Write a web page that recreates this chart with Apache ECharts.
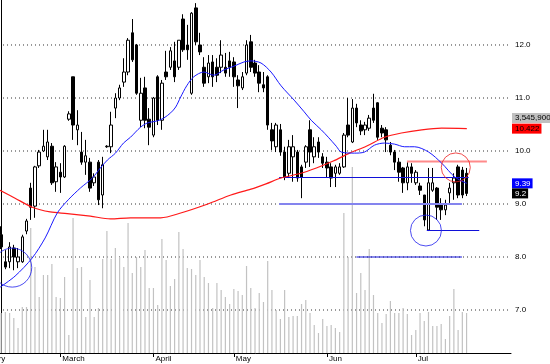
<!DOCTYPE html>
<html><head><meta charset="utf-8">
<script src="https://cdn.jsdelivr.net/npm/echarts@6/dist/echarts.min.js"></script>
<style>html,body{margin:0;padding:0;background:#fff}#c{width:550px;height:364px}</style>
</head><body><div id="c"></div>
<script>
// ---- data ----
const opens  = [8.42,7.91,7.91,8.17,7.91,7.91,8.49,9.30,8.96,9.72,10.00,9.89,10.09,9.42,9.60,9.51,10.60,11.40,10.40,9.98,9.79,9.79,9.40,9.79,9.17,10.08,10.08,10.81,11.00,11.30,11.49,12.23,12.00,10.58,11.19,10.60,10.30,11.40,10.58,11.49,11.58,11.70,11.58,12.49,12.00,11.09,12.70,12.00,11.58,11.40,11.68,11.58,11.58,11.58,11.70,11.68,11.34,11.19,11.47,12.06,11.66,11.49,11.25,11.40,10.40,10.08,10.40,9.98,9.58,9.89,9.98,9.70,9.79,10.40,9.89,10.17,9.89,9.79,9.70,9.58,9.58,9.70,10.49,10.17,10.81,10.49,10.40,10.43,10.81,10.91,10.43,10.40,10.11,9.98,9.79,9.68,9.40,9.70,9.40,9.34,9.17,8.51,9.26,9.30,8.98,8.89,9.21,9.40,9.70,9.64,9.58];
const closes = [8.19,7.81,8.19,8.00,8.00,8.38,8.68,8.94,9.70,9.98,10.09,10.17,9.40,9.70,9.51,10.09,10.70,10.49,10.49,9.79,9.91,9.30,9.51,9.08,9.74,10.09,10.49,11.00,11.19,11.49,12.09,11.72,11.09,11.09,10.58,10.45,11.00,10.58,11.28,11.40,11.89,11.40,12.09,11.91,11.91,12.60,12.06,11.87,11.28,11.66,11.40,11.43,11.81,11.47,11.58,11.40,11.23,11.40,12.00,11.58,11.47,11.28,11.19,10.49,10.19,10.49,9.98,9.51,10.08,10.08,9.49,9.51,10.08,9.98,10.08,9.98,9.77,9.68,9.49,9.70,9.70,10.30,10.30,10.81,10.53,10.38,10.49,10.62,10.58,10.26,10.34,10.21,9.98,9.79,9.60,9.40,9.70,9.58,9.60,9.26,8.70,9.40,9.40,8.94,8.89,8.98,9.30,9.49,9.17,9.17,9.2];
const highs  = [8.58,8.13,8.28,8.23,8.17,8.42,8.72,9.40,9.72,10.02,10.40,10.40,10.15,9.79,9.77,10.11,10.75,11.40,10.77,10.36,10.21,9.87,9.58,9.83,9.89,10.11,10.74,11.09,11.25,11.75,12.13,12.49,12.02,11.38,11.40,10.81,11.02,11.43,11.34,11.89,11.96,12.06,12.09,12.58,12.38,12.62,12.79,12.23,11.77,11.81,11.81,11.75,12.09,11.85,11.87,11.77,11.43,11.49,12.09,12.19,11.72,11.62,11.49,11.43,10.53,10.53,10.51,10.08,10.21,10.30,10.02,9.74,10.11,10.58,10.26,10.26,9.96,9.89,9.77,9.74,9.77,10.34,11.00,10.98,10.89,10.58,10.55,10.68,11.08,10.92,10.49,10.45,10.17,10.02,9.87,9.70,9.79,9.77,9.64,9.40,9.17,9.68,9.68,9.32,9.11,9.08,9.40,9.58,9.74,9.70,9.68];
const lows   = [8.15,7.77,7.79,7.75,7.79,7.89,8.43,8.70,8.74,9.68,9.98,9.83,9.36,9.23,9.21,9.49,10.57,10.21,10.11,9.74,9.55,9.23,9.34,8.98,8.92,10.06,9.96,10.62,10.96,11.21,11.43,11.68,11.06,10.45,10.43,10.11,10.26,10.49,10.40,11.34,11.53,11.30,11.53,11.87,11.72,11.06,12.00,11.81,11.21,11.28,11.21,11.30,11.47,11.40,11.40,11.21,10.81,11.15,11.43,11.49,11.40,11.11,11.11,10.40,10.02,9.98,9.91,9.45,9.49,9.42,9.42,9.11,9.68,9.70,9.77,9.87,9.68,9.51,9.32,9.32,9.55,9.68,10.26,10.15,10.45,10.30,10.30,10.38,10.53,10.21,10.26,9.98,9.92,9.64,9.42,9.21,9.26,9.40,9.36,9.17,8.58,8.49,9.23,8.70,8.70,8.79,9.02,9.08,9.11,9.11,9.15];
const volumes = [3546000,3635000,3546000,3103000,2216000,4078000,4078000,11081000,7624000,4964000,6915000,6915000,7890000,4964000,4876000,6737000,1596000,11968000,7535000,7624000,3191000,6471000,3191000,3989000,8333000,10815000,8333000,9308000,8510000,7624000,11525000,7092000,8510000,7624000,9131000,5762000,5762000,4255000,10106000,8244000,5940000,6560000,10727000,9220000,7535000,7447000,6915000,8244000,6737000,6206000,3989000,6206000,5585000,4964000,4344000,5674000,5496000,5142000,7713000,5762000,3989000,5319000,4521000,8156000,5585000,3812000,3014000,5585000,3191000,3280000,3280000,4344000,4698000,3546000,2482000,1773000,3014000,2394000,2482000,2216000,1862000,12411000,8510000,16489000,5319000,7092000,5585000,9220000,5142000,3546000,2660000,3457000,4610000,3546000,3546000,3989000,3457000,1596000,2039000,3546000,2837000,3635000,2394000,2394000,2571000,1241000,3280000,5674000,2039000,3635000,3545900];
// moving averages: [bar position, price]
const maBlue = [[-0.26,7.43],[3.3,7.64],[7.33,7.98],[10.41,8.36],[13.26,8.83],[15.87,9.08],[18.72,9.30],[21.56,9.49],[23.46,9.68],[25.12,9.83],[27.02,9.96],[28.92,10.15],[30.58,10.26],[32.95,10.45],[34.61,10.53],[36.99,10.57],[38.41,10.62],[40.07,10.72],[41.26,10.83],[42.44,11.02],[43.86,11.23],[45.53,11.40],[47.9,11.49],[50.27,11.43],[52.64,11.53],[55.02,11.60],[57.39,11.68],[59.05,11.70],[61.42,11.66],[63.79,11.49],[66.16,11.23],[69.25,10.96],[71.62,10.74],[73.28,10.58],[75.66,10.40],[77.32,10.26],[79.21,10.09],[80.4,9.98],[83.48,9.96],[85.86,9.98],[88.23,10.11],[90.6,10.15],[92.98,10.13],[95.35,10.08],[97.72,10.08],[101.04,9.98],[104.13,9.77],[107.21,9.51],[110.06,9.39]];
const maRed = [[-0.26,9.26],[3.3,9.11],[7.33,8.94],[11.6,8.85],[15.63,8.82],[21.09,8.77],[25.83,8.72],[30.58,8.74],[37.7,8.74],[42.44,8.83],[48.85,9.00],[54.3,9.17],[59.05,9.28],[62.6,9.38],[66.16,9.49],[70.43,9.57],[74.5,9.68],[78.5,9.81],[82.3,9.96],[86.3,10.09],[90.6,10.26],[94.6,10.34],[99.4,10.40],[104.1,10.43],[110.06,10.422]];
// drawn annotations
const hLineA = [[65.7,9.5],[110.5,9.5]];
const hLineB = [[65.7,9.0],[108.9,9.0]];
const hLineC = [[100.6,8.5],[113.0,8.5]];
const hLineD = [[83.96,8.0],[108.9,8.0]];
const hLineE = [[95.9,9.8],[114.8,9.8]];
const blueCircles = [[2.63,7.80,39],[100.4,8.50,31]];
const redCircles = [[107.45,9.69,29]];
const gridVals = [7,8,9,10,11,12];
const monthNames = ['February','March','April','May','Jun','Jul'];
const monthIdx = [1,14,36,55,77,98];
const N = 121;

const FONT = '"Liberation Sans", Arial, sans-serif';
const cats = Array.from({length:N},(_,i)=> i===monthIdx[0] ? {value:'d'+i, textStyle:{align:'right'}} : 'd'+i);
const candles = opens.map((o,i)=>[o, closes[i], lows[i], highs[i]]);

const chart = echarts.init(document.getElementById('c'), null, {renderer:'canvas'});
const seg = (d, color, width, type, z) => ({type:'line', xAxisIndex:1, yAxisIndex:0, data:d, symbol:'none', silent:true, z:z, lineStyle:{color:color, width:width, type:type||'solid'}, animation:false});

const series = [];
gridVals.forEach(v => series.push(seg([[-0.5,v],[N-0.5,v]], '#333', 1, [1,3], 1)));
series.push({type:'bar', xAxisIndex:0, yAxisIndex:1, data:volumes, barWidth:1.2, itemStyle:{color:'#c2c2c2'}, silent:true, z:2});
series.push({type:'candlestick', xAxisIndex:0, yAxisIndex:0, data:candles, barWidth:3, z:3,
  itemStyle:{color:'#ffffff', color0:'#000000', borderColor:'#000000', borderColor0:'#000000', borderWidth:1}});
series.push(seg(hLineB, '#8484ee', 2, 'solid', 4));
series.push(seg(hLineA, '#1010d8', 1, 'solid', 4));
series.push(seg(hLineC, '#1010d8', 1, 'solid', 4));
series.push(seg(hLineD, '#1010d8', 1, 'solid', 4));
series.push(seg(hLineE, '#ff8a8a', 2, 'solid', 4));
series.push({type:'line', xAxisIndex:1, yAxisIndex:0, data:maRed, symbol:'none', smooth:0.3, silent:true, z:5, lineStyle:{color:'#ff1a1a', width:1.2}});
series.push({type:'line', xAxisIndex:1, yAxisIndex:0, data:maBlue, symbol:'none', smooth:0.3, silent:true, z:5, lineStyle:{color:'#1a1aff', width:1}});
series.push({type:'scatter', xAxisIndex:1, yAxisIndex:0, data:blueCircles.map(c=>[c[0],c[1]]), symbol:'circle', symbolSize:(v,p)=>blueCircles[p.dataIndex][2], silent:true, z:6, itemStyle:{color:'rgba(0,0,0,0)', borderColor:'#2020ee', borderWidth:1}});
series.push({type:'scatter', xAxisIndex:1, yAxisIndex:0, data:redCircles.map(c=>[c[0],c[1]]), symbol:'circle', symbolSize:(v,p)=>redCircles[p.dataIndex][2], silent:true, z:6, itemStyle:{color:'rgba(0,0,0,0)', borderColor:'#ee2020', borderWidth:1}});

chart.setOption({
  animation:false,
  backgroundColor:'#ffffff',
  grid:{left:-1, right:39, top:0, bottom:11, containLabel:false, outerBoundsMode:'none'},
  xAxis:[{
    type:'category', data:cats, boundaryGap:true,
    axisLine:{show:true, onZero:false, lineStyle:{color:'#000', width:1}},
    axisTick:{show:true, alignWithLabel:true, length:4, interval:(i)=>monthIdx.indexOf(i)>0, lineStyle:{color:'#000'}},
    axisLabel:{show:true, interval:(i)=>monthIdx.indexOf(i)>=0, formatter:(v,i)=>monthNames[monthIdx.indexOf(i)]||'', align:'left', margin:2, padding:[0,0,0,2], fontSize:8, fontFamily:FONT, color:'#000'},
    splitLine:{show:false}
  },{
    type:'value', min:-0.5, max:N-0.5, show:false
  }],
  yAxis:[{
    type:'value', position:'right', min:6.189, max:12.849, splitNumber:6, scale:true,
    axisLine:{show:true, lineStyle:{color:'#000', width:1}},
    axisTick:{show:false}, splitLine:{show:false},
    axisLabel:{margin:4, fontSize:8, fontFamily:FONT, color:'#000',
      formatter:(v)=> Math.abs(v-Math.round(v))<1e-6 ? v.toFixed(1) : ''}
  },{
    type:'value', min:0, max:31292000, show:false
  }],
  series:series
});

// price tags at the right
const lastClose = closes[closes.length-1];
const lastBlue = maBlue[maBlue.length-1][1];
const lastRed = maRed[maRed.length-1][1];
const lastVol = volumes[volumes.length-1];
function tag(text, price, bg, fg, dy){
  const y = chart.convertToPixel({yAxisIndex:0}, price) + (dy||0);
  return {type:'text', x:512, y:y, z:100, silent:true,
    style:{text:text, fill:fg, backgroundColor:bg, font:'8px '+FONT, padding:[1,2,1,3], verticalAlign:'middle', align:'left'}};
}
chart.setOption({graphic:[
  tag(lastVol.toLocaleString('en-US'), lastRed, '#c0c0c0', '#000', -10.6),
  tag(String(lastRed), lastRed, '#ff0000', '#000'),
  tag(String(lastBlue), lastBlue, '#0000ff', '#fff'),
  tag(String(lastClose), lastClose, '#000000', '#fff')
]});
</script></body></html>
